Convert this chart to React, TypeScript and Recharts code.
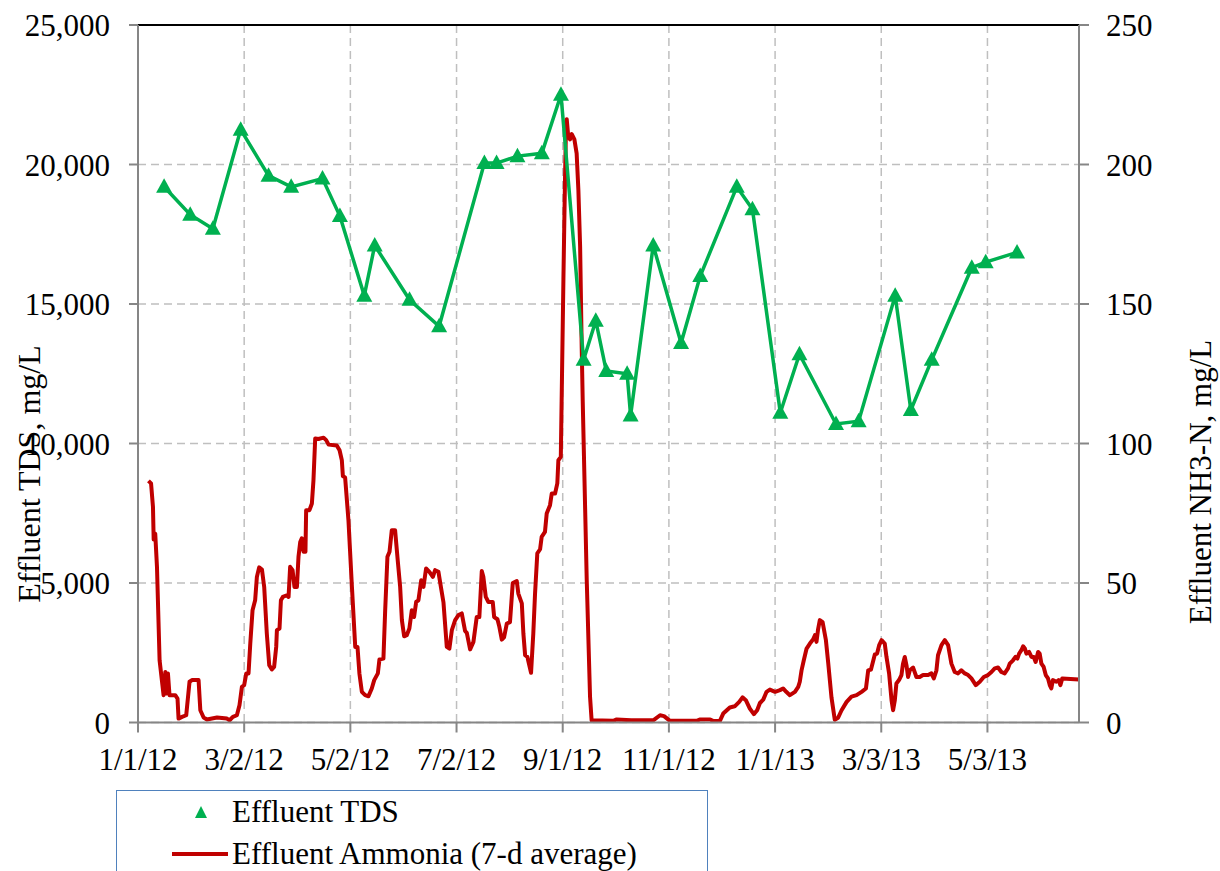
import React from 'react';
import { LineChart, Line, XAxis, YAxis, CartesianGrid, ReferenceLine } from 'recharts';

// Days are counted from 1/1/12
const tdsDays = [15, 30, 43, 59, 75, 88, 106, 116, 130, 136, 156, 173, 199, 206, 218, 232, 243, 256, 263, 269, 281, 283, 296, 312, 323, 344, 353, 369, 380, 401, 414, 435, 444, 456, 479, 487, 505];
const tdsValues = [19200, 18200, 17700, 21250, 19600, 19200, 19500, 18150, 15300, 17100, 15150, 14200, 20050, 20050, 20300, 20400, 22500, 13000, 14400, 12600, 12500, 11000, 17100, 13600, 16000, 19200, 18400, 11100, 13200, 10700, 10800, 15300, 11200, 13000, 16300, 16500, 16850];

const nh3Days = [6, 7.5, 8.6, 9, 9.9, 10.9, 12.4, 14.7, 15.7, 16.6, 17.2, 18.1, 21.4, 22.7, 23.3, 25.3, 27.7, 29.6, 31, 34.8, 35.8, 37.7, 39.6, 45.4, 51.1, 52.6, 54.5, 56.8, 58.3, 59.7, 61, 62.2, 63.5, 64.5, 65.8, 67.3, 68.3, 69.6, 71.2, 72.5, 74, 75.4, 76.9, 78.2, 79.4, 79.8, 81.3, 82.1, 83.2, 85.5, 86.5, 87.4, 88.8, 89.9, 91.3, 92.2, 93.2, 94.1, 95.1, 96.2, 96.6, 98.5, 99.9, 100.8, 101.8, 103.7, 106.6, 108.1, 109.5, 114.2, 115.8, 117.1, 117.7, 119, 120.9, 122.9, 124.8, 126.1, 127.2, 128.6, 130.5, 132.4, 134.3, 135.7, 137.8, 138.7, 141, 142, 143.3, 144.5, 145.8, 147.7, 149.2, 150.6, 151.6, 152.9, 154.4, 155.9, 157.3, 158.6, 159.8, 161.1, 162.7, 164, 165.5, 167.4, 169.4, 170.7, 172.6, 174, 175.5, 177.4, 178.9, 180.3, 182.2, 184.1, 186, 187.9, 188.9, 190.8, 192.7, 194.6, 196.1, 197.5, 198.4, 199.8, 201.3, 203.8, 204.6, 206.5, 207.6, 209, 210.3, 211.9, 213.7, 215.3, 217.6, 218.5, 220.5, 221.4, 222.4, 223.7, 225.8, 227.1, 228.1, 229.4, 231, 231.9, 233.8, 234.8, 236.7, 237.7, 239.6, 240.9, 241.5, 242.9, 243.6, 244.4, 245.3, 245.9, 246.3, 247.2, 248.2, 249.2, 250.7, 252, 253, 254, 254.9, 255.5, 257.8, 259.7, 260.6, 273, 275, 283.3, 296, 299.9, 302.2, 305.6, 320.9, 323, 328.7, 330.6, 334.3, 336.2, 340, 342.8, 345.4, 347.3, 349.2, 351.5, 353.8, 355.7, 357.3, 359.2, 361.1, 363, 366, 368.8, 370.6, 372.4, 374.5, 377.4, 379.3, 380.2, 381.2, 382.5, 384.1, 386, 387.9, 388.9, 389.8, 390.7, 391.7, 393.3, 395.2, 396.5, 398.4, 400.3, 402.2, 404.2, 407.1, 409.9, 412.8, 415.7, 418.2, 419.5, 421.1, 423.3, 424.6, 425.8, 427.2, 429, 430, 431.5, 432.9, 433.8, 434.8, 435.7, 437.2, 438.6, 439.5, 440.5, 441.5, 442.4, 443.4, 445.3, 447.2, 449.1, 451, 453.9, 455.8, 457.2, 458.7, 459.6, 461.6, 463.5, 465.4, 467.3, 469.2, 471.1, 473, 475, 476.9, 478.8, 481.3, 483.6, 485.9, 488.3, 490.3, 492.2, 494.1, 496, 497.9, 499.8, 500.8, 502.7, 504.1, 505.2, 506.2, 507.5, 508.5, 509.5, 510.4, 511.9, 513.3, 514.6, 515.7, 517.1, 518, 519, 520.3, 521.5, 522.8, 523.8, 524.7, 525.6, 527.6, 528.9, 529.9, 531, 540.5];
const nh3Values = [86.6, 85.7, 77.3, 65.6, 67.7, 55.8, 22.3, 9.8, 18.1, 10.4, 17.6, 9.8, 9.8, 8.6, 1.4, 2, 2.6, 14.6, 15.2, 15.2, 4.4, 1.8, 1.1, 1.8, 1.4, 0.8, 2, 2.6, 6.2, 12.8, 13.4, 17.6, 17.6, 28.3, 40.2, 43.8, 52.2, 55.6, 54.8, 48.6, 31.9, 20.5, 19, 19.9, 27.1, 33.1, 33.7, 43.8, 45, 45.6, 45, 55.8, 54.6, 48.6, 48.6, 59.4, 64.7, 66, 61.2, 61.2, 76.1, 76.1, 78.5, 86.8, 101.8, 101.6, 102.1, 101.2, 99.6, 99.3, 97.6, 94, 88.3, 87.8, 72.5, 48.6, 27.1, 27.1, 17.6, 11, 9.8, 9.4, 12.2, 15.2, 17.6, 22.6, 22.9, 40.2, 59.4, 61.2, 68.9, 68.9, 58.2, 48.6, 36.7, 30.9, 31.3, 33.7, 40.2, 37.8, 43.2, 43.8, 51, 48.6, 55.2, 54, 52.2, 54.6, 54, 48.6, 43, 27.1, 26.5, 33.1, 36.7, 38.5, 39.1, 32.8, 32.1, 26.2, 28.9, 37.8, 37.8, 54.3, 52.2, 45, 43.2, 43.2, 37.8, 37, 34.3, 29.7, 30.5, 35.5, 36, 50, 50.7, 46.2, 42.7, 31.9, 24.1, 23.5, 17.8, 31.9, 46.2, 60.6, 62.1, 66.5, 68.3, 74.9, 77.9, 82.1, 82.1, 85.7, 94, 95.2, 125, 158.9, 194.4, 214, 216.2, 209.9, 209, 210.9, 209, 204, 190.8, 170.5, 134.6, 115, 51, 9.2, 0.8, 0.6, 1.1, 0.8, 0.8, 2.6, 2.3, 0.6, 0.6, 1.1, 1.1, 0.5, 0.6, 3.2, 5.4, 5.8, 7.4, 9, 8, 5, 3, 4.4, 7, 8.2, 11, 11.8, 11, 11.6, 12.2, 11, 9.8, 11, 12.8, 14.6, 18.7, 22.3, 26.5, 28.3, 29.8, 31.3, 28.9, 33.4, 36.7, 36, 29.5, 21.5, 9, 1, 1.7, 4.4, 7.4, 9.3, 9.8, 11, 12.2, 18.7, 19, 24.4, 24.7, 27.7, 29.5, 28.3, 23.5, 17.6, 8, 4.4, 8, 14, 15.2, 17, 21.1, 23.5, 20.5, 16.3, 18.7, 19.7, 16.3, 16.3, 17, 17, 17.6, 15.8, 18.7, 24.1, 27.7, 29.5, 27.7, 21.1, 18.1, 17.6, 18.7, 17.6, 17, 15.8, 13.4, 14.6, 16.3, 17, 18.1, 19.4, 19.7, 18.1, 17.6, 19.4, 21.1, 22.3, 23.5, 22.9, 24.7, 25.9, 27.3, 26.5, 24.7, 25.3, 23.5, 23.5, 21.7, 25.3, 24.7, 21.1, 19.9, 17, 15.8, 13.4, 12.2, 15.2, 14.6, 15.2, 13.4, 15.8, 15.4];

const xTickDays = [0, 61, 122, 183, 244, 305, 366, 427, 488];
const xTickLabels = ['1/1/12', '3/2/12', '5/2/12', '7/2/12', '9/1/12', '11/1/12', '1/1/13', '3/3/13', '5/3/13'];
const leftTicks = [0, 5000, 10000, 15000, 20000, 25000];
const rightTicks = [0, 50, 100, 150, 200, 250];

const tdsData = tdsDays.map((d, i) => ({ day: d, tds: tdsValues[i] }));
const nh3Data = nh3Days.map((d, i) => ({ day: d, nh3: nh3Values[i] }));

const FONT = '"Liberation Serif", "Times New Roman", serif';
const GREEN = '#00B050';
const RED = '#C00000';
const AXIS = '#868686';

const Triangle = (props: any) => {
  const { cx, cy, index } = props;
  if (cx == null || cy == null) return <g key={`t-${index}`} />;
  return (
    <path
      key={`t-${index}`}
      d={`M${cx},${cy - 8.5} L${cx + 8},${cy + 6} L${cx - 8},${cy + 6} Z`}
      fill={GREEN}
    />
  );
};

const fmtThousands = (v: number) => v.toLocaleString('en-US');

export default function App() {
  const tickStyle = { fill: '#000', fontSize: 31, fontFamily: FONT };
  return (
    <div style={{ position: 'absolute', left: 0, top: 0, width: 1220, height: 871, overflow: 'hidden', background: '#fff' }}>
      <LineChart width={1220} height={871} margin={{ top: 25, right: 41, bottom: 88.5, left: 38 }}>
        <CartesianGrid yAxisId="left" stroke="#BFBFBF" strokeWidth={1.5} strokeDasharray="8 5" />
        <XAxis
          type="number"
          dataKey="day"
          domain={[0, 540.6]}
          ticks={xTickDays}
          tickFormatter={(v: number) => xTickLabels[xTickDays.indexOf(v)] ?? ''}
          allowDataOverflow
          height={60}
          tickSize={10}
          tickMargin={15}
          tick={tickStyle}
          stroke={AXIS}
          strokeWidth={2}
          interval={0}
        />
        <YAxis
          yAxisId="left"
          domain={[0, 25000]}
          ticks={leftTicks}
          tickFormatter={fmtThousands}
          width={100}
          tickSize={9}
          tickMargin={19}
          tick={tickStyle}
          stroke={AXIS}
          strokeWidth={2}
          interval={0}
          label={{
            content: () => (
              <text transform="translate(40,474) rotate(-90)" textAnchor="middle" fontFamily={FONT} fontSize={32} fill="#000">
                Effluent TDS, mg/L
              </text>
            ),
          }}
        />
        <YAxis
          yAxisId="right"
          orientation="right"
          domain={[0, 250]}
          ticks={rightTicks}
          width={100}
          tickSize={10}
          tickMargin={17}
          tick={tickStyle}
          stroke={AXIS}
          strokeWidth={2}
          interval={0}
          label={{
            content: () => (
              <text transform="translate(1211,482) rotate(-90)" textAnchor="middle" fontFamily={FONT} fontSize={31} fill="#000">
                Effluent NH3-N, mg/L
              </text>
            ),
          }}
        />
        <ReferenceLine yAxisId="left" y={25000} stroke="#000" strokeWidth={2} />
        <Line
          yAxisId="right"
          data={nh3Data}
          dataKey="nh3"
          type="linear"
          stroke={RED}
          strokeWidth={4}
          strokeLinejoin="round"
          dot={false}
          activeDot={false}
          isAnimationActive={false}
        />
        <Line
          yAxisId="left"
          data={tdsData}
          dataKey="tds"
          type="linear"
          stroke={GREEN}
          strokeWidth={3.5}
          dot={Triangle}
          activeDot={false}
          isAnimationActive={false}
        />
      </LineChart>
      <div style={{ position: 'absolute', left: 116, top: 790, width: 592, height: 120, border: '1.5px solid #4F81BD', boxSizing: 'border-box' }}>
        <svg width={592} height={120} style={{ position: 'absolute', left: -1.5, top: -1.5 }}>
          <path d="M85,16 L91,28 L79,28 Z" fill={GREEN} />
          <text x={116} y={32} fontFamily={FONT} fontSize={31} fill="#000">Effluent TDS</text>
          <line x1={56} y1={64} x2={112} y2={64} stroke={RED} strokeWidth={4} />
          <text x={116} y={74} fontFamily={FONT} fontSize={31} fill="#000">Effluent Ammonia (7-d average)</text>
        </svg>
      </div>
    </div>
  );
}
